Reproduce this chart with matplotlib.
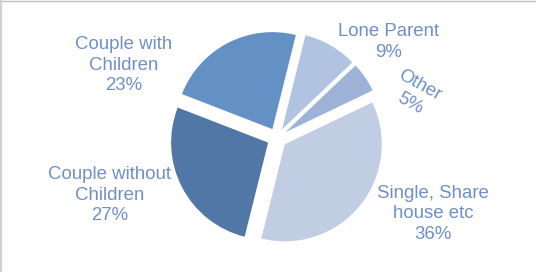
import matplotlib
matplotlib.use("Agg")
import matplotlib.pyplot as plt

# data
categories = ["Lone Parent", "Other", "Single, Share\nhouse etc", "Couple without\nChildren", "Couple with\nChildren"]
shares = [9, 5, 36, 27, 23]
colors = ["#B0C3E0", "#9CB2D7", "#C0CDE3", "#5077A6", "#6391C6"]

# label placement (pixel coords, y from top) and rotation
label_pos = [(389, 42), (415, 94), (433, 214), (110, 195), (124, 65)]
label_rot = [0, -29, 0, 0, 0]

plt.rcParams['font.family'] = ['Liberation Sans', 'DejaVu Sans']

W, H = 536, 272
fig = plt.figure(figsize=(W / 100, H / 100), dpi=100)
ax = fig.add_axes([0, 0, 1, 1])

cx, cy = 277, 138
R = 97
# explode is an absolute offset in data units (pixels here)
wedges, _ = ax.pie(shares, colors=colors, startangle=76, counterclock=False,
                   explode=[10] * len(shares), radius=R, center=(cx, H - cy),
                   frame=True)

for cat, val, (x, y), rot in zip(categories, shares, label_pos, label_rot):
    ax.text(x, H - y, f"{cat}\n{val}%", ha="center", va="center", rotation=rot,
            rotation_mode="anchor", fontsize=13.4, color="#6F8FC8", linespacing=1.3)

# frame lines at top and left
ax.plot([0, W], [H - 0.5, H - 0.5], color="#BFBFBF", lw=1.0)
ax.plot([1, 1], [0, H], color="#D0D0D0", lw=1.5)

ax.set_xlim(0, W)
ax.set_ylim(0, H)
ax.set_aspect("auto")
ax.axis("off")

fig.savefig("out.png", dpi=100)
